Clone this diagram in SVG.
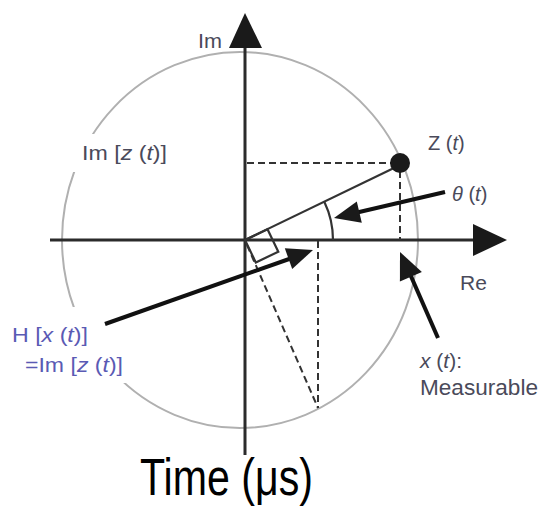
<svg xmlns="http://www.w3.org/2000/svg" width="541" height="507" viewBox="0 0 541 507">
<style>
.axis{stroke:#2b2b2b;stroke-width:3;fill:none}
.circ{stroke:#b0b0b0;stroke-width:2;fill:none}
.thin{stroke:#333;stroke-width:2.2;fill:none}
.dash{stroke:#333;stroke-width:2;fill:none;stroke-dasharray:7 4}
.ptr{stroke:#111;stroke-width:4;fill:none}
.head{fill:#1a1a1a}
.bg{fill:#fff}
.lbl{font-family:"Liberation Sans",Arial,sans-serif;fill:#4a4a5a}
.blue{font-family:"Liberation Sans",Arial,sans-serif;fill:#5a5ab4}
</style>
<rect width="541" height="507" fill="#fff"/>
<g id="circle"><ellipse class="circ" cx="240" cy="240" rx="178" ry="188"/></g>
<g id="axes">
<line class="axis" x1="245" y1="46" x2="245" y2="455"/>
<polygon class="head" points="245,13 229,48 262,48"/>
<line class="axis" x1="50" y1="240" x2="476" y2="240"/>
<polygon class="head" points="507,240 473,224 473,256"/>
</g>
<g id="connectors">
<line class="thin" x1="245" y1="240" x2="396" y2="167"/>
<line class="dash" x1="247" y1="163" x2="392" y2="163"/>
<line class="dash" x1="400" y1="171" x2="400" y2="240"/>
<path class="thin" d="M333,240 A88,88 0 0 0 324.4,202"/>
<polygon class="thin" points="245,240 267.5,229.2 278.3,251.7 255.8,262.5"/>
<line class="dash" x1="247" y1="245" x2="318" y2="408"/>
<line class="dash" x1="318" y1="241" x2="318" y2="408"/>
<line class="ptr" x1="445" y1="192" x2="355" y2="213"/>
<polygon class="head" points="334,218 356.8,201.4 361.8,222.8"/>
<line class="ptr" x1="105" y1="324" x2="292" y2="258"/>
<polygon class="head" points="313,250 284.8,248.3 292.2,269.1"/>
<line class="ptr" x1="438" y1="338" x2="410" y2="274"/>
<polygon class="head" points="400,252 421.9,271.9 399.9,281.5"/>
</g>
<g id="point-z"><circle cx="400" cy="163" r="10" fill="#1a1a1a"/>
<text class="lbl" x="428" y="150" font-size="20">Z (<tspan font-style="italic">t</tspan>)</text></g>
<g id="theta"><text class="lbl" x="452" y="201" font-size="20"><tspan font-style="italic">θ</tspan> (<tspan font-style="italic">t</tspan>)</text></g>
<g id="im-label"><text class="lbl" x="198" y="48" font-size="21" textLength="24" lengthAdjust="spacingAndGlyphs">Im</text></g>
<g id="imz-label"><rect class="bg" x="68" y="134" width="104" height="38"/>
<text class="lbl" x="82" y="160" font-size="20" textLength="85" lengthAdjust="spacingAndGlyphs">Im [<tspan font-style="italic">z</tspan> (<tspan font-style="italic">t</tspan>)]</text></g>
<g id="re-label"><text class="lbl" x="460" y="290" font-size="21">Re</text></g>
<g id="x-label"><text class="lbl" x="420" y="368" font-size="21"><tspan font-style="italic">x</tspan> (<tspan font-style="italic">t</tspan>):</text>
<text class="lbl" x="420" y="395" font-size="22" textLength="118" lengthAdjust="spacingAndGlyphs">Measurable</text></g>
<g id="h-label"><rect class="bg" x="8" y="307" width="92" height="40"/><rect class="bg" x="20" y="347" width="108" height="36"/>
<text class="blue" x="12" y="342" font-size="20" textLength="76" lengthAdjust="spacingAndGlyphs">H [<tspan font-style="italic">x</tspan> (<tspan font-style="italic">t</tspan>)]</text>
<text class="blue" x="25" y="372" font-size="20" textLength="98" lengthAdjust="spacingAndGlyphs">=Im [<tspan font-style="italic">z</tspan> (<tspan font-style="italic">t</tspan>)]</text></g>
<g id="time-label"><text x="140" y="495" font-family="'Liberation Sans',Arial,sans-serif" font-size="52" fill="#000" textLength="173" lengthAdjust="spacingAndGlyphs">Time (μs)</text></g>
</svg>
